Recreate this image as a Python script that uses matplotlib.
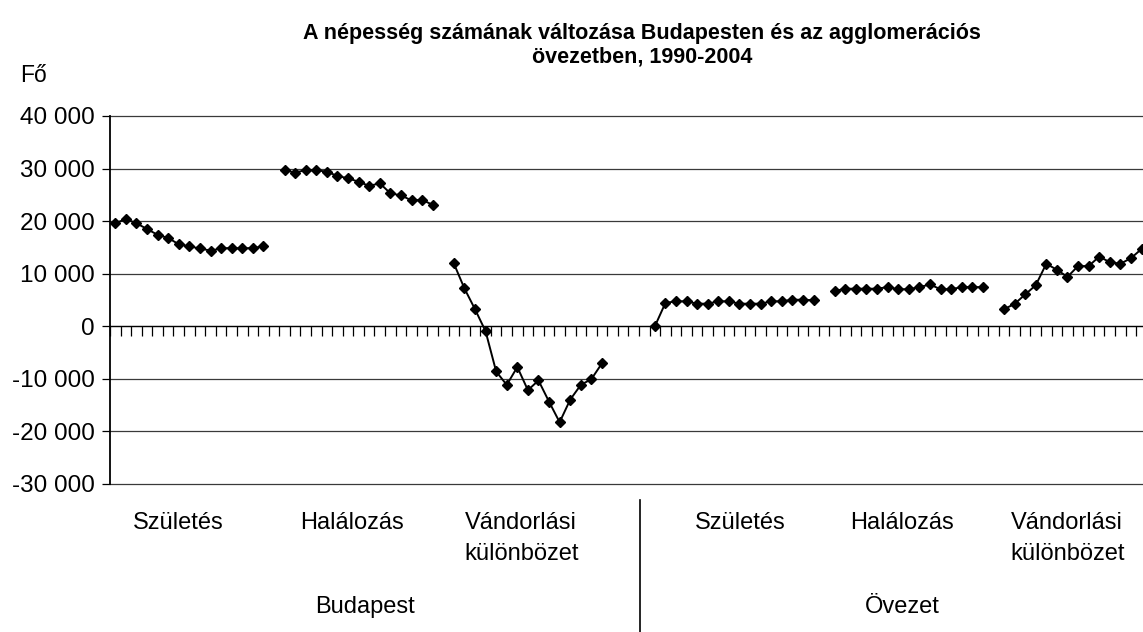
import numpy as np
import matplotlib
matplotlib.use("Agg")
import matplotlib.pyplot as plt
from matplotlib.lines import Line2D

plt.rcParams['font.family'] = ['Liberation Sans', 'DejaVu Sans']

# yearly values 1990-2004 (Fő)
bp_szuletes = [19600, 20400, 19600, 18500, 17400, 16800, 15600, 15200, 14800, 14400,
               14800, 14900, 14800, 14900, 15200]
bp_halalozas = [29700, 29250, 29700, 29700, 29400, 28600, 28150, 27500, 26700, 27200,
                25300, 24900, 23950, 24050, 23100]
bp_vandorlas = [11950, 7200, 3250, -950, -8600, -11150, -7750, -12150, -10300, -14350,
                -18250, -13950, -11150, -10050, -7050]
ov_szuletes = [0, 4450, 4750, 4750, 4300, 4300, 4750, 4750, 4300, 4300, 4300, 4750,
               4750, 5050, 5050, 4950]
ov_halalozas = [6700, 7150, 7150, 7150, 7150, 7450, 7050, 7050, 7450, 7950, 7050, 7050,
                7450, 7450, 7450]
ov_vandorlas = [3250, 4250, 6050, 7800, 11900, 10750, 9400, 11450, 11450, 13250, 12200,
                11900, 12950, 14700]

series = [bp_szuletes, bp_halalozas, bp_vandorlas, ov_szuletes, ov_halalozas, ov_vandorlas]
slot_start = [0, 16, 32, 51, 68, 84]   # first category slot of each block

cat_labels = ["Születés", "Halálozás", "Vándorlási\nkülönbözet",
              "Születés", "Halálozás", "Vándorlási\nkülönbözet"]
group_labels = ["Budapest", "Övezet"]
yticks = np.arange(-30000, 40001, 10000)

W, H = 1143, 632
fig = plt.figure(figsize=(W / 100, H / 100), dpi=100)
ax = fig.add_axes([110 / W, (H - 484) / H, (W - 110) / W, (484 - 116) / H])

for start, vals in zip(slot_start, series):
    x = start + np.arange(len(vals))
    ax.plot(x, vals, color='black', lw=1.4, marker='D', ms=5.4,
            markerfacecolor='black', markeredgecolor='black', clip_on=False, zorder=3)

ax.set_xlim(-0.5, 97.14)
ax.set_ylim(-30000, 40000)
ax.set_yticks(yticks)
ax.set_yticklabels([f"{v:,}".replace(",", " ") for v in yticks], fontsize=17.5)
ax.yaxis.grid(True, color='#3a3a3a', lw=0.9)
for gl in ax.get_ygridlines():
    gl.set_clip_on(False)
ax.set_axisbelow(True)

# category axis crosses at 0, tick marks between slots
ax.spines['bottom'].set_position(('data', 0))
ax.spines['bottom'].set_linewidth(0.9)
ax.spines['top'].set_visible(False)
ax.spines['right'].set_visible(False)
ax.spines['left'].set_linewidth(1.3)
ax.set_xticks(np.arange(-0.5, 97.5, 1))
ax.tick_params(axis='x', direction='out', length=7, width=0.9, labelbottom=False)
ax.tick_params(axis='y', direction='out', length=6, width=0.9, pad=5)

fig.text(642 / W, 1 - 45 / H,
         "A népesség számának változása Budapesten és az agglomerációs\növezetben, 1990-2004",
         ha='center', va='center', fontsize=15.5, fontweight='bold', linespacing=1.15)
fig.text(20 / W, 1 - 75 / H, "Fő", ha='left', va='center', fontsize=16.5)

cat_x = [178, 352, 522, 740, 902, 1068]
for cx, lab in zip(cat_x, cat_labels):
    fig.text(cx / W, 1 - 512 / H, lab, ha='center', va='top', fontsize=17,
             linespacing=1.5, multialignment='left')
for gx, lab in zip([365, 902], group_labels):
    fig.text(gx / W, 1 - 607 / H, lab, ha='center', va='center', fontsize=17)
fig.add_artist(Line2D([640 / W, 640 / W], [0, 1 - 500 / H], color='black', lw=1.2))

fig.savefig("out.png", dpi=100)
